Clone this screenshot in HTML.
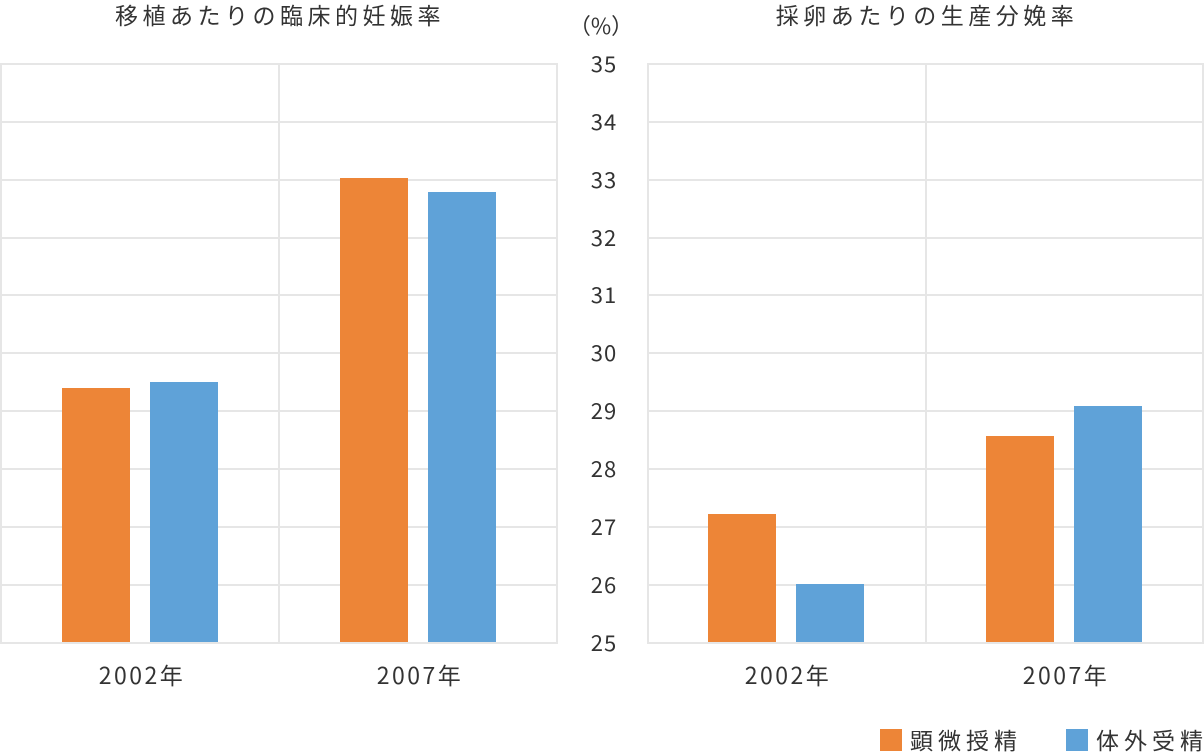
<!DOCTYPE html>
<html><head><meta charset="utf-8"><style>
html,body{margin:0;padding:0;background:#fff;}
svg{display:block;font-family:"Noto Sans CJK JP","Liberation Sans",sans-serif;}
</style></head><body>
<svg width="1204" height="752" viewBox="0 0 1204 752" xmlns="http://www.w3.org/2000/svg">
<g stroke="#e6e6e6" stroke-width="2" fill="none">
<line x1="0" y1="64" x2="557" y2="64"/><line x1="0" y1="122" x2="557" y2="122"/><line x1="0" y1="180" x2="557" y2="180"/><line x1="0" y1="238" x2="557" y2="238"/><line x1="0" y1="295" x2="557" y2="295"/><line x1="0" y1="353" x2="557" y2="353"/><line x1="0" y1="411" x2="557" y2="411"/><line x1="0" y1="469" x2="557" y2="469"/><line x1="0" y1="527" x2="557" y2="527"/><line x1="0" y1="585" x2="557" y2="585"/><line x1="0" y1="643" x2="557" y2="643"/>
<line x1="647" y1="64" x2="1204" y2="64"/><line x1="647" y1="122" x2="1204" y2="122"/><line x1="647" y1="180" x2="1204" y2="180"/><line x1="647" y1="238" x2="1204" y2="238"/><line x1="647" y1="295" x2="1204" y2="295"/><line x1="647" y1="353" x2="1204" y2="353"/><line x1="647" y1="411" x2="1204" y2="411"/><line x1="647" y1="469" x2="1204" y2="469"/><line x1="647" y1="527" x2="1204" y2="527"/><line x1="647" y1="585" x2="1204" y2="585"/><line x1="647" y1="643" x2="1204" y2="643"/>
<line x1="1" y1="63" x2="1" y2="644"/><line x1="279" y1="63" x2="279" y2="644"/><line x1="557" y1="63" x2="557" y2="644"/>
<line x1="648" y1="63" x2="648" y2="644"/><line x1="926" y1="63" x2="926" y2="644"/><line x1="1203" y1="63" x2="1203" y2="644"/>
</g>
<g fill="#ED8537">
<rect x="62" y="388" width="68" height="254"/>
<rect x="340" y="178" width="68" height="464"/>
<rect x="708" y="514" width="68" height="128"/>
<rect x="986" y="436" width="68" height="206"/>
<rect x="880" y="729" width="22" height="22"/>
</g>
<g fill="#5FA2D8">
<rect x="150" y="382" width="68" height="260"/>
<rect x="428" y="192" width="68" height="450"/>
<rect x="796" y="584" width="68" height="58"/>
<rect x="1074" y="406" width="68" height="236"/>
<rect x="1066" y="729" width="22" height="22"/>
</g>
<g fill="#333">
<g font-size="23" letter-spacing="4.5" text-anchor="middle">
<text x="280" y="24">移植あたりの臨床的妊娠率</text>
<text x="927" y="24">採卵あたりの生産分娩率</text>
</g>
<text x="601" y="34" text-anchor="middle" font-size="22">（%）</text>
<g text-anchor="middle" font-size="22" letter-spacing="1">
<text x="604" y="72">35</text><text x="604" y="130">34</text><text x="604" y="188">33</text><text x="604" y="246">32</text><text x="604" y="303">31</text><text x="604" y="361">30</text><text x="604" y="419">29</text><text x="604" y="477">28</text><text x="604" y="535">27</text><text x="604" y="593">26</text><text x="604" y="651">25</text>
</g>
<g text-anchor="middle" font-size="23" letter-spacing="2.5">
<text x="142" y="684">2002年</text><text x="420" y="684">2007年</text>
<text x="788" y="684">2002年</text><text x="1066" y="684">2007年</text>
</g>
<g font-size="23" letter-spacing="5">
<text x="910" y="749">顕微授精</text>
<text x="1096" y="749">体外受精</text>
</g>
</g>
</svg>
</body></html>
